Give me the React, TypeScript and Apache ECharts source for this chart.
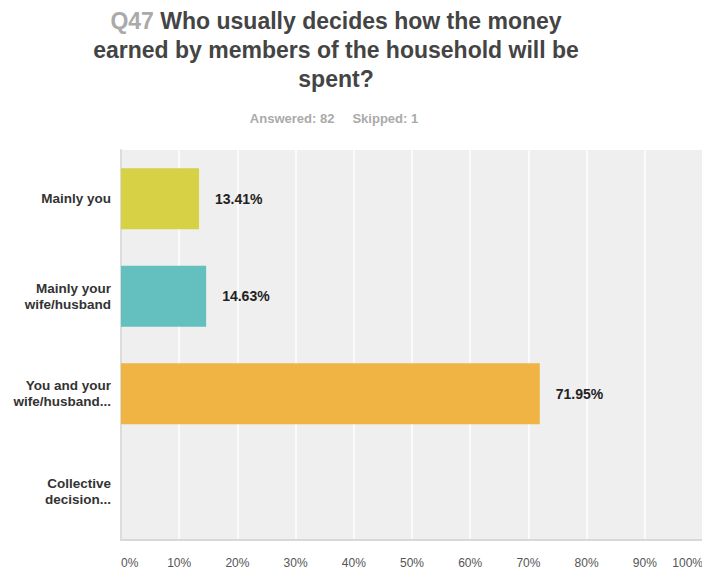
import React, { useEffect, useRef } from "react";
import * as echarts from "echarts";

const categories = [
  "Mainly you",
  "Mainly your\nwife/husband",
  "You and your\nwife/husband...",
  "Collective\ndecision...",
];
const values = [13.41, 14.63, 71.95, 0];
const barColors = ["#d6d145", "#64bfbf", "#efb443", "#9fa8da"];
const tickLabels = ["0%", "10%", "20%", "30%", "40%", "50%", "60%", "70%", "80%", "90%", "100%"];

const FONT = "'Liberation Sans', Arial, Helvetica, sans-serif";

export default function App() {
  const ref = useRef<HTMLDivElement>(null);
  useEffect(() => {
    document.body.style.margin = "0";
    document.body.style.overflow = "hidden";
    const chart = echarts.init(ref.current!, null, { renderer: "svg" });
    chart.setOption({
      animation: false,
      backgroundColor: "#ffffff",
      title: [
        {
          left: 331,
          top: 1,
          textAlign: "center",
          text:
            "{q|Q47} Who usually decides how the money\nearned by members of the household will be\nspent?",
          textStyle: {
            fontFamily: FONT,
            fontSize: 23,
            fontWeight: "bold",
            color: "#444444",
            lineHeight: 29,
            rich: {
              q: {
                fontFamily: FONT,
                fontSize: 23,
                fontWeight: "bold",
                color: "#aaaaaa",
                lineHeight: 29,
              },
            },
          },
        },
        {
          left: 329,
          top: 107,
          textAlign: "center",
          text: "Answered: 82     Skipped: 1",
          textStyle: {
            fontFamily: FONT,
            fontSize: 13,
            fontWeight: "bold",
            color: "#aaaaaa",
          },
        },
      ],
      grid: {
        left: 121,
        top: 150,
        width: 583,
        height: 390,
        show: true,
        backgroundColor: "#efefef",
        borderWidth: 0,
        containLabel: false,
      },
      xAxis: {
        type: "value",
        min: 0,
        max: 100,
        interval: 10,
        axisLine: { show: true, lineStyle: { color: "#d8d8d8", width: 2 } },
        axisTick: { show: false },
        splitLine: { show: true, lineStyle: { color: "#ffffff", width: 1.5 } },
        axisLabel: {
          margin: 17,
          fontFamily: FONT,
          fontSize: 12,
          color: "#555555",
          alignMinLabel: "left",
          alignMaxLabel: "right",
          formatter: (v: number) => tickLabels[Math.round(v / 10)] ?? "",
        },
      },
      yAxis: {
        type: "category",
        data: categories,
        inverse: true,
        axisLine: { show: true, lineStyle: { color: "#dcdcdc", width: 2 } },
        axisTick: { show: false },
        splitLine: { show: false },
        axisLabel: {
          margin: 10,
          fontFamily: FONT,
          fontSize: 13.5,
          fontWeight: "bold",
          color: "#333333",
          lineHeight: 16,
          align: "right",
        },
      },
      series: [
        {
          type: "bar",
          data: values.map((v, i) => ({ value: v, itemStyle: { color: barColors[i] } })),
          barCategoryGap: "37.5%",
          label: {
            show: true,
            position: "right",
            distance: 16,
            fontFamily: FONT,
            fontSize: 14,
            fontWeight: "bold",
            color: "#222222",
            formatter: (p: any) => (p.value > 0 ? p.value.toFixed(2) + "%" : ""),
          },
        },
      ],
    });
    return () => chart.dispose();
  }, []);
  return <div ref={ref} style={{ width: 706, height: 572 }} />;
}
